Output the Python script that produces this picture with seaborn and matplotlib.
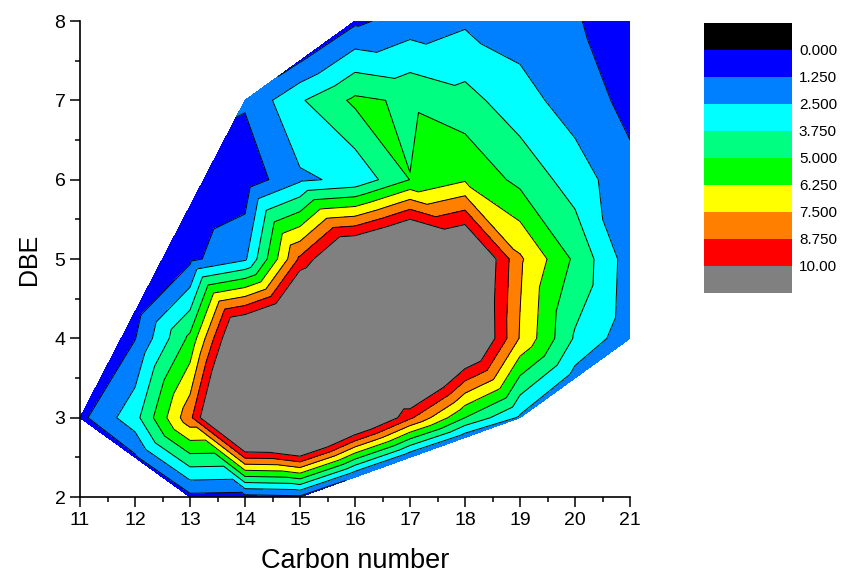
import numpy as np
import matplotlib
matplotlib.use("Agg")
import matplotlib.pyplot as plt
import matplotlib.tri as mtri
from matplotlib.ticker import MultipleLocator
import seaborn as sns

# ---- data: carbon number, DBE, relative abundance ----
carbon_number = [11,
                 12, 12, 12, 12,
                 13, 13, 13, 13, 13,
                 14, 14, 14, 14, 14, 14,
                 15, 15, 15, 15, 15, 15, 15,
                 16, 16, 16, 16, 16, 16, 16,
                 17, 17, 17, 17, 17, 17, 17,
                 18, 18, 18, 18, 18, 18, 18,
                 19, 19, 19, 19, 19, 19,
                 20, 20, 20, 20, 20, 20,
                 21, 21, 21, 21, 21]
dbe = [3,
       2.5, 3, 4, 4.333,
       2, 3, 4, 5, 5.667,
       2, 3, 4, 5, 6, 7,
       2, 3, 4, 5, 6, 7, 7.5,
       2.25, 3, 4, 5, 6, 7, 8,
       2.5, 3, 4, 5, 6, 7, 8,
       2.75, 3, 4, 5, 6, 7, 8,
       3, 4, 5, 6, 7, 8,
       3.5, 4, 5, 6, 7, 8,
       4, 5, 6, 7, 8]
abundance = [0.9,
             1.05, 3.3, 1.2, 0.75,
             0.9, 8.4, 5.3, 0.95, 0.45,
             0.8, 17.0, 13.3, 2.3, 0.45, 1.4,
             1.0, 18.5, 16.0, 9.0, 2.3, 3.6, 1.15,
             1.3, 13.5, 18.0, 13.0, 2.8, 5.25, 1.0,
             1.5, 9.0, 18.0, 15.0, 5.02, 4.8, 1.8,
             1.8, 5.0, 13.1, 13.0, 6.1, 4.2, 2.3,
             2.3, 7.4, 7.7, 4.64, 3.0, 1.9,
             2.0, 3.6, 4.75, 3.16, 1.9, 1.35,
             1.7, 1.85, 1.6, 0.9, 0.6]

levels = [0, 1.25, 2.5, 3.75, 5, 6.25, 7.5, 8.75, 10]
level_labels = ["0.000", "1.250", "2.500", "3.750", "5.000",
                "6.250", "7.500", "8.750", "10.00"]
band_colors = ["#000000", "#0000FF", "#0080FF", "#00FFFF", "#00FF80",
               "#00FF00", "#FFFF00", "#FF8000", "#FF0000", "#808080"]

sns.set_theme(style="ticks")
plt.rcParams["font.family"] = ["Liberation Sans", "DejaVu Sans"]

fig = plt.figure(figsize=(8.44, 5.74), dpi=100)
ax = fig.add_axes([80 / 844, 77 / 574, 550 / 844, 476 / 574])

x = np.asarray(carbon_number, float)
y = np.asarray(dbe, float)
z = np.asarray(abundance, float)
# Delaunay on slightly sheared coordinates -> consistent diagonal choice on the grid
base = mtri.Triangulation(x + 0.1 * y, y)
tri = mtri.Triangulation(x, y, base.triangles)

fill_levels = levels + [z.max() + 1]
ax.tricontourf(tri, z, levels=fill_levels, colors=band_colors[1:])
ax.tricontour(tri, z, levels=levels[1:], colors="black", linewidths=0.7)

ax.set_xlim(11, 21)
ax.set_ylim(2, 8)
ax.xaxis.set_major_locator(MultipleLocator(1))
ax.xaxis.set_minor_locator(MultipleLocator(0.5))
ax.yaxis.set_major_locator(MultipleLocator(1))
ax.yaxis.set_minor_locator(MultipleLocator(0.5))
ax.tick_params(which="major", direction="out", length=7, width=1.1,
               labelsize=14, color="black", labelcolor="black")
ax.tick_params(which="minor", direction="out", length=3.5, width=1.1, color="black")
sns.despine(ax=ax)
for side in ("left", "bottom"):
    ax.spines[side].set_linewidth(1.2)
    ax.spines[side].set_color("black")
ax.set_facecolor("white")
ax.set_xlabel("Carbon number", fontsize=19.5, labelpad=14, color="black")
ax.set_ylabel("DBE", fontsize=18, labelpad=10, color="black")

# ---- level legend (Origin style colour scale, reversed) ----
lax = fig.add_axes([704 / 844, (574 - 292.7) / 574, 88 / 844, 270 / 574])
for i, c in enumerate(band_colors):
    lax.bar(0.5, 1, bottom=i, width=1, color=c, linewidth=0)
lax.set_xlim(0, 1)
lax.set_ylim(len(band_colors), 0)
lax.set_xticks([])
lax.set_yticks(range(1, len(band_colors)))
lax.set_yticklabels(level_labels)
lax.yaxis.tick_right()
lax.tick_params(axis="y", length=0, pad=5, labelsize=11, labelcolor="black")
for s in lax.spines.values():
    s.set_visible(False)

fig.savefig("out.png", dpi=100)
